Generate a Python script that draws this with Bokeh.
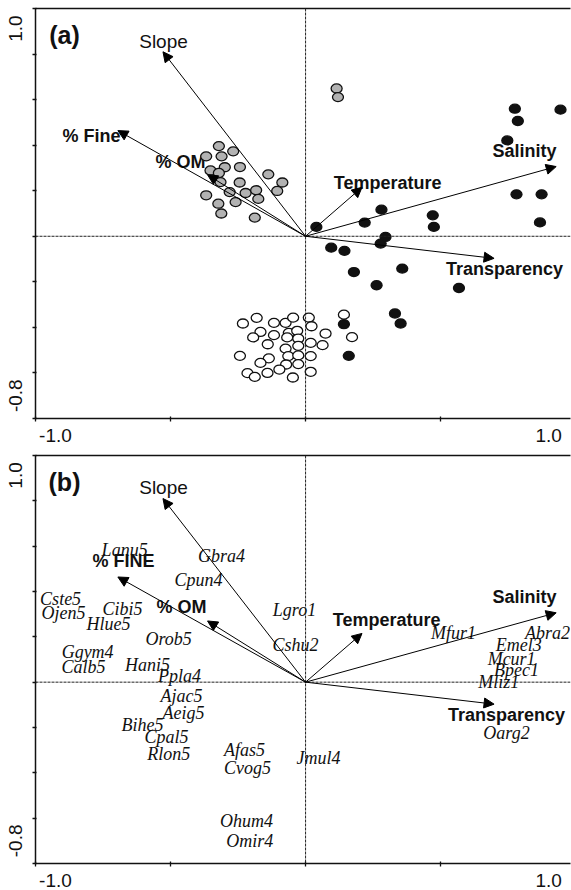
from bokeh.plotting import figure
from bokeh.models import (ColumnDataSource, Arrow, NormalHead, Label, Span,
                          LinearAxis, FixedTicker)
from bokeh.layouts import column
from bokeh.core.properties import value
from bokeh.embed import file_html
from bokeh.resources import INLINE

# ---------------- data ----------------
# environmental vectors (same for both panels)
env_names_a = ["Slope", "% Fine", "% OM", "Temperature", "Salinity", "Transparency"]
env_names_b = ["Slope", "% FINE", "% OM", "Temperature", "Salinity", "Transparency"]
env_x = [-0.528, -0.695, -0.363, 0.209, 0.928, 0.698]
env_y = [0.810, 0.464, 0.270, 0.215, 0.306, -0.097]
env_bold = [False, True, True, True, True, True]
env_lab_x_a = [-0.526, -0.793, -0.463, 0.304, 0.811, 0.737]
env_lab_y_a = [0.855, 0.439, 0.325, 0.232, 0.373, -0.145]
env_lab_x_b = [-0.526, -0.674, -0.459, 0.300, 0.811, 0.744]
env_lab_y_b = [0.860, 0.534, 0.331, 0.273, 0.375, -0.146]

# panel (a) sample scores
gray_x = [-0.321, -0.268, -0.368, -0.311, -0.299, -0.243, -0.352, -0.321, -0.138, -0.315,
          -0.244, -0.086, -0.281, -0.222, -0.183, -0.105, -0.368, -0.175, -0.259, -0.323,
          -0.312, -0.188, 0.115, 0.120]
gray_y = [0.396, 0.373, 0.351, 0.351, 0.303, 0.304, 0.289, 0.278, 0.272, 0.238,
          0.236, 0.236, 0.194, 0.190, 0.202, 0.199, 0.180, 0.164, 0.150, 0.143,
          0.100, 0.082, 0.649, 0.611]
black_x = [0.775, 0.944, 0.786, 0.747, 0.781, 0.874, 0.281, 0.471, 0.040, 0.219,
           0.475, 0.868, 0.296, 0.278, 0.095, 0.144, 0.179, 0.358, 0.263, 0.568,
           0.331, 0.352, 0.142, 0.160]
black_y = [0.560, 0.556, 0.506, 0.421, 0.184, 0.184, 0.117, 0.092, 0.041, 0.060,
           0.041, 0.061, -0.003, -0.032, -0.050, -0.064, -0.157, -0.142, -0.215, -0.227,
           -0.339, -0.383, -0.386, -0.525]
white_x = [-0.232, -0.181, -0.117, -0.074, -0.046, 0.012, 0.022, 0.142, -0.167, -0.194,
           -0.117, -0.062, -0.031, -0.068, -0.027, 0.074, 0.172, -0.140, 0.019, -0.027,
           0.063, -0.243, -0.074, -0.064, -0.027, 0.019, -0.136, -0.167, -0.072, -0.027,
           -0.097, -0.141, -0.215, -0.188, -0.047, 0.019]
white_y = [-0.383, -0.358, -0.380, -0.380, -0.357, -0.357, -0.395, -0.344, -0.420, -0.444,
           -0.434, -0.424, -0.415, -0.444, -0.449, -0.427, -0.443, -0.474, -0.468, -0.481,
           -0.478, -0.525, -0.493, -0.526, -0.523, -0.526, -0.536, -0.556, -0.563, -0.561,
           -0.585, -0.600, -0.601, -0.617, -0.620, -0.595]

# panel (b) species scores
species = ["Lanu5", "Gbra4", "Cpun4", "Cste5", "Ojen5", "Cibi5", "Hlue5", "Orob5",
           "Ggym4", "Calb5", "Hani5", "Ppla4", "Ajac5", "Aeig5", "Bihe5", "Cpal5",
           "Rlon5", "Afas5", "Cvog5", "Ohum4", "Omir4", "Jmul4", "Lgro1", "Cshu2",
           "Mfur1", "Abra2", "Emel3", "Mcur1", "Bpec1", "Mliz1", "Oarg2"]
sp_x = [-0.670, -0.311, -0.396, -0.907, -0.896, -0.678, -0.730, -0.507,
        -0.807, -0.822, -0.585, -0.467, -0.459, -0.452, -0.604, -0.515,
        -0.507, -0.226, -0.215, -0.219, -0.207, 0.048, -0.041, -0.037,
        0.548, 0.896, 0.789, 0.763, 0.781, 0.715, 0.744]
sp_y = [0.582, 0.556, 0.450, 0.366, 0.304, 0.322, 0.256, 0.190,
        0.132, 0.066, 0.075, 0.026, -0.062, -0.137, -0.190, -0.243,
        -0.318, -0.300, -0.379, -0.613, -0.701, -0.335, 0.318, 0.163,
        0.216, 0.216, 0.163, 0.101, 0.053, 0.000, -0.225]

# axis ticks and the end labels (labels sit just inside the axis ends)
x_ticks = [-1.0, -0.5, 0.0, 0.5]
y_ticks = [-0.8, -0.6, -0.4, -0.2, 0.0, 0.2, 0.4, 0.6, 0.8, 1.0]
x_tick_labels = ["-1.0", "1.0"]
x_tick_label_pos = [-0.926, 0.900]
y_tick_labels = ["1.0", "-0.8"]
y_tick_label_pos = [0.912, -0.700]

X0, X1 = -1.0, 0.981
Y0, Y1 = -0.8, 1.0
W = 571
LEFT = 35
RIGHT = 1
SANS = "Liberation Sans"


def make_panel(height, top, bottom):
    p = figure(width=W, height=height, x_range=(X0, X1), y_range=(Y0, Y1),
               output_backend="svg", toolbar_location=None,
               x_axis_type=None, y_axis_type=None,
               min_border_left=LEFT, min_border_right=RIGHT,
               min_border_top=top, min_border_bottom=bottom)
    p.outline_line_color = None
    p.background_fill_color = "white"
    p.border_fill_color = "white"
    common = dict(axis_line_width=1.5, axis_line_color="#111",
                  major_tick_line_color=None, major_tick_in=0, major_tick_out=0,
                  minor_tick_line_color="#111", minor_tick_line_width=1.3,
                  major_label_text_font=SANS, major_label_text_font_size="19px",
                  major_label_text_color="#111")
    xb = LinearAxis(ticker=FixedTicker(ticks=x_tick_label_pos, minor_ticks=x_ticks),
                    major_label_overrides=dict(zip(x_tick_label_pos, x_tick_labels)),
                    minor_tick_in=2, minor_tick_out=3, major_label_standoff=7,
                    **common)
    yl = LinearAxis(ticker=FixedTicker(ticks=y_tick_label_pos, minor_ticks=y_ticks),
                    major_label_overrides=dict(zip(y_tick_label_pos, y_tick_labels)),
                    major_label_orientation="vertical",
                    minor_tick_in=1, minor_tick_out=3, major_label_standoff=10,
                    **common)
    xt = LinearAxis(ticker=FixedTicker(ticks=[], minor_ticks=[]),
                    minor_tick_in=0, minor_tick_out=0, major_label_standoff=0,
                    **common)
    p.add_layout(xb, "below")
    p.add_layout(yl, "left")
    p.add_layout(xt, "above")
    p.add_layout(Span(location=0, dimension="width", line_color="#222",
                      line_width=1, line_dash="3 1"))
    p.add_layout(Span(location=0, dimension="height", line_color="#222",
                      line_width=1, line_dash="3 1"))
    frame_h = height - top - bottom
    xs = (W - LEFT - RIGHT) / (X1 - X0)
    ys = frame_h / (Y1 - Y0)

    def pdata(px, py):
        return X0 + (px - LEFT) / xs, Y1 - (py - top) / ys

    return p, pdata


def add_vectors(p, names, lx, ly):
    src = ColumnDataSource(dict(x0=[0.0] * len(env_x), y0=[0.0] * len(env_y),
                                x1=env_x, y1=env_y))
    p.add_layout(Arrow(end=NormalHead(size=10, fill_color="black", line_color="black",
                                      line_width=1),
                       x_start="x0", y_start="y0", x_end="x1", y_end="y1",
                       source=src, line_color="black", line_width=1))
    for nm, x, y, b in zip(names, lx, ly, env_bold):
        p.text(x=[x], y=[y], text=[nm], text_font=value(SANS),
               text_font_style="bold" if b else "normal",
               text_font_size="18px" if b else "19px",
               text_align="center", text_baseline="middle", text_color="#111")


# ---------------- panel (a) ----------------
pa, pda = make_panel(450, 8, 32)
add_vectors(pa, env_names_a, env_lab_x_a, env_lab_y_a)
ell = dict(width=11, height=9, width_units="screen", height_units="screen",
           line_color="#111", line_width=1.3)
pa.ellipse(x=gray_x, y=gray_y, fill_color="#b2b2b2", **ell)
pa.ellipse(x=white_x, y=white_y, fill_color="white", **ell)
pa.ellipse(x=black_x, y=black_y, fill_color="#111", **ell)
ax, ay = pda(64, 34)
pa.add_layout(Label(x=ax, y=ay, text="(a)", text_font=SANS, text_font_style="bold",
                    text_font_size="25px", text_align="center", text_baseline="middle",
                    text_color="#111"))

# ---------------- panel (b) ----------------
pb, pdb = make_panel(440, 5, 27)
add_vectors(pb, env_names_b, env_lab_x_b, env_lab_y_b)
pb.text(x=sp_x, y=sp_y, text=species, text_font=value("Liberation Serif"),
        text_font_style="italic", text_font_size="18px", text_align="center",
        text_baseline="middle", text_color="#111")
bx, by = pdb(64, 31)
pb.add_layout(Label(x=bx, y=by, text="(b)", text_font=SANS, text_font_style="bold",
                    text_font_size="25px", text_align="center", text_baseline="middle",
                    text_color="#111"))

layout = column(pa, pb, spacing=0)
open("out.html", "w").write(file_html(layout, INLINE))
